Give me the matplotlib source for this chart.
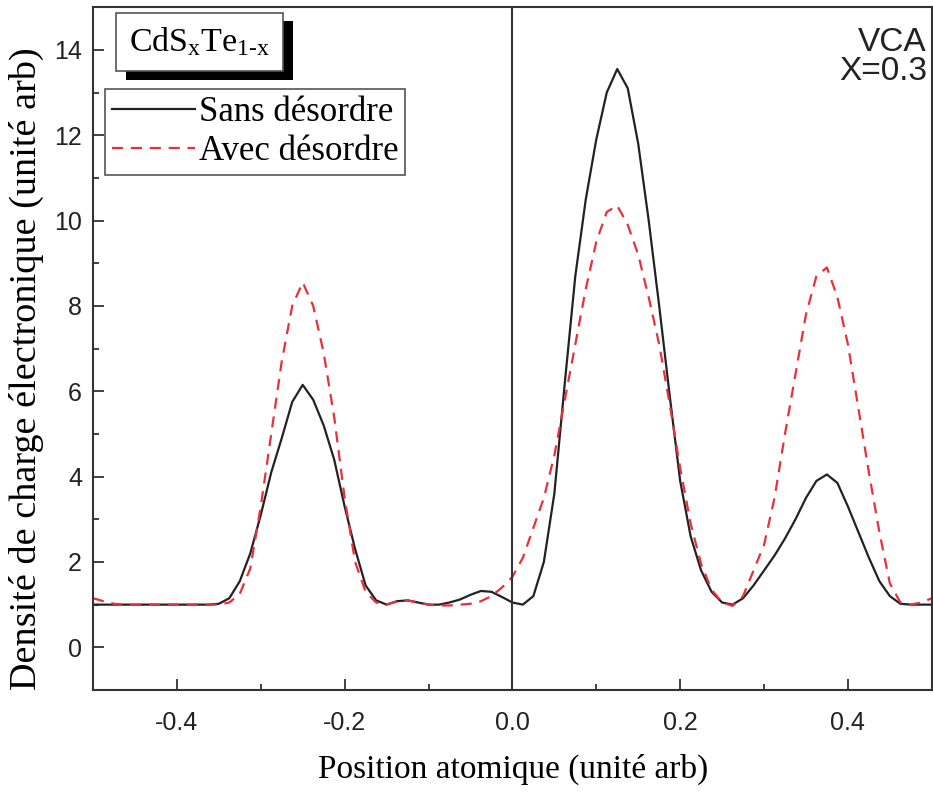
import matplotlib
matplotlib.use("Agg")
import matplotlib.pyplot as plt
import matplotlib.patheffects as pe
from matplotlib.ticker import MultipleLocator
import numpy as np

# positions along the cell (step 0.0125)
x = np.round(np.arange(-0.5, 0.5001, 0.0125), 4)

sans_desordre = [
    1.0, 1.0, 1.0, 1.0, 1.0, 1.0, 1.0, 1.0, 1.0, 1.0, 1.0, 1.0, 1.02,   # -0.5 .. -0.35
    1.15, 1.55, 2.2, 3.1, 4.1, 4.9, 5.75, 6.15, 5.8, 5.2, 4.4, 3.3,    # -0.3375 .. -0.2
    2.3, 1.45, 1.1, 1.0, 1.08, 1.1, 1.05, 1.0, 1.0, 1.05, 1.12, 1.23,  # -0.1875 .. -0.05
    1.32, 1.3, 1.18, 1.05,                                             # -0.0375 .. 0.0
    1.0, 1.2, 2.0, 3.6, 6.2, 8.7, 10.5, 11.9, 13.0, 13.55,             # 0.0125 .. 0.125
    13.1, 11.8, 10.0, 8.0, 5.9, 3.9, 2.6, 1.8, 1.3, 1.05, 1.0,         # 0.1375 .. 0.2625
    1.15, 1.45, 1.8, 2.15, 2.55, 3.0, 3.5, 3.9, 4.05,                  # 0.275 .. 0.375
    3.85, 3.3, 2.7, 2.1, 1.55, 1.2, 1.02, 1.0, 1.0, 1.0,               # 0.3875 .. 0.5
]

avec_desordre = [
    1.15, 1.08, 1.02, 1.0, 1.0, 1.0, 1.0, 1.0, 1.0, 1.0, 1.0, 1.0, 1.0,
    1.05, 1.25, 1.85, 3.3, 5.0, 6.7, 8.0, 8.55, 8.0, 6.9, 5.4, 3.5,
    2.0, 1.3, 1.05, 1.0, 1.08, 1.1, 1.05, 1.0, 0.98, 0.98, 1.0, 1.02,
    1.08, 1.2, 1.4, 1.65,
    2.1, 2.8, 3.5, 4.5, 5.8, 7.1, 8.4, 9.5, 10.2, 10.35,
    9.9, 9.2, 8.2, 7.1, 5.7, 4.2, 2.9, 1.95, 1.35, 1.05, 0.97,
    1.2, 1.8, 2.4, 3.5, 5.0, 6.4, 7.8, 8.7, 8.9,
    8.2, 7.1, 5.6, 4.1, 2.7, 1.5, 1.05, 1.0, 1.05, 1.15,
]

xticks = [-0.4, -0.2, 0.0, 0.2, 0.4]
yticks = [0, 2, 4, 6, 8, 10, 12, 14]

serif = ["Liberation Serif", "DejaVu Serif"]
sans = ["Liberation Sans", "DejaVu Sans"]
plt.rcParams["axes.unicode_minus"] = False
plt.rcParams["mathtext.fontset"] = "custom"
plt.rcParams["mathtext.rm"] = "Liberation Serif"
plt.rcParams["mathtext.it"] = "Liberation Serif:italic"

fig = plt.figure(figsize=(9.33, 7.94), dpi=100)
ax = fig.add_axes([0.0997, 0.131, 0.899, 0.860])

ax.plot(x, sans_desordre, color="#222222", lw=1.6, label="Sans désordre")
ax.plot(x, avec_desordre, color="#e8303a", lw=1.6, ls=(0, (5, 3.5)), label="Avec désordre")
ax.axvline(0.0, color="#333333", lw=1.5)

ax.set_xlim(-0.5, 0.5)
ax.set_ylim(-1, 15)
ax.set_xticks(xticks)
ax.set_yticks(yticks)
ax.xaxis.set_minor_locator(MultipleLocator(0.1))
ax.yaxis.set_minor_locator(MultipleLocator(1))
ax.tick_params(which="both", direction="in", colors="#333333", labelcolor="#222222",
               labelsize=18, width=1.3)
ax.tick_params(which="major", length=8)
ax.tick_params(which="minor", length=4)
ax.tick_params(axis="x", which="major", pad=15)
ax.tick_params(axis="y", which="major", pad=8)
for lab in ax.get_xticklabels() + ax.get_yticklabels():
    lab.set_family(sans)
for s in ax.spines.values():
    s.set_linewidth(1.5)
    s.set_color("#333333")

ax.set_xlabel("Position atomique (unité arb)", family=serif, fontsize=24)
ax.set_ylabel("Densité de charge électronique (unité arb)", family=serif, fontsize=27.5)
ax.xaxis.set_label_coords(0.501, -0.094)
ax.yaxis.set_label_coords(-0.058, 0.47)

ax.text(0.994, 0.971, "VCA\nX=0.3", transform=ax.transAxes, ha="right", va="top",
        family=sans, fontsize=24, linespacing=0.92, color="#222222")

t = ax.text(0.043, 0.949, r"CdS$_{\mathrm{x}}$Te$_{\mathrm{1\text{-}x}}$", transform=ax.transAxes,
            ha="left", va="center", family=serif, fontsize=24.5,
            bbox=dict(boxstyle="square,pad=0.38", facecolor="white", edgecolor="#555555", lw=1.2))
t.get_bbox_patch().set_path_effects([
    pe.SimplePatchShadow(offset=(7, -6), shadow_rgbFace="black", alpha=1.0),
    pe.Normal(),
])

leg = ax.legend(loc="upper left", bbox_to_anchor=(0.014, 0.88), prop={"family": serif, "size": 25},
                frameon=True, fancybox=False, edgecolor="#555555", framealpha=1,
                handlelength=2.4, handletextpad=0.1, borderpad=0.2, labelspacing=0.18,
                borderaxespad=0)
leg.get_frame().set_linewidth(1.2)

fig.savefig("out.png", dpi=100)
